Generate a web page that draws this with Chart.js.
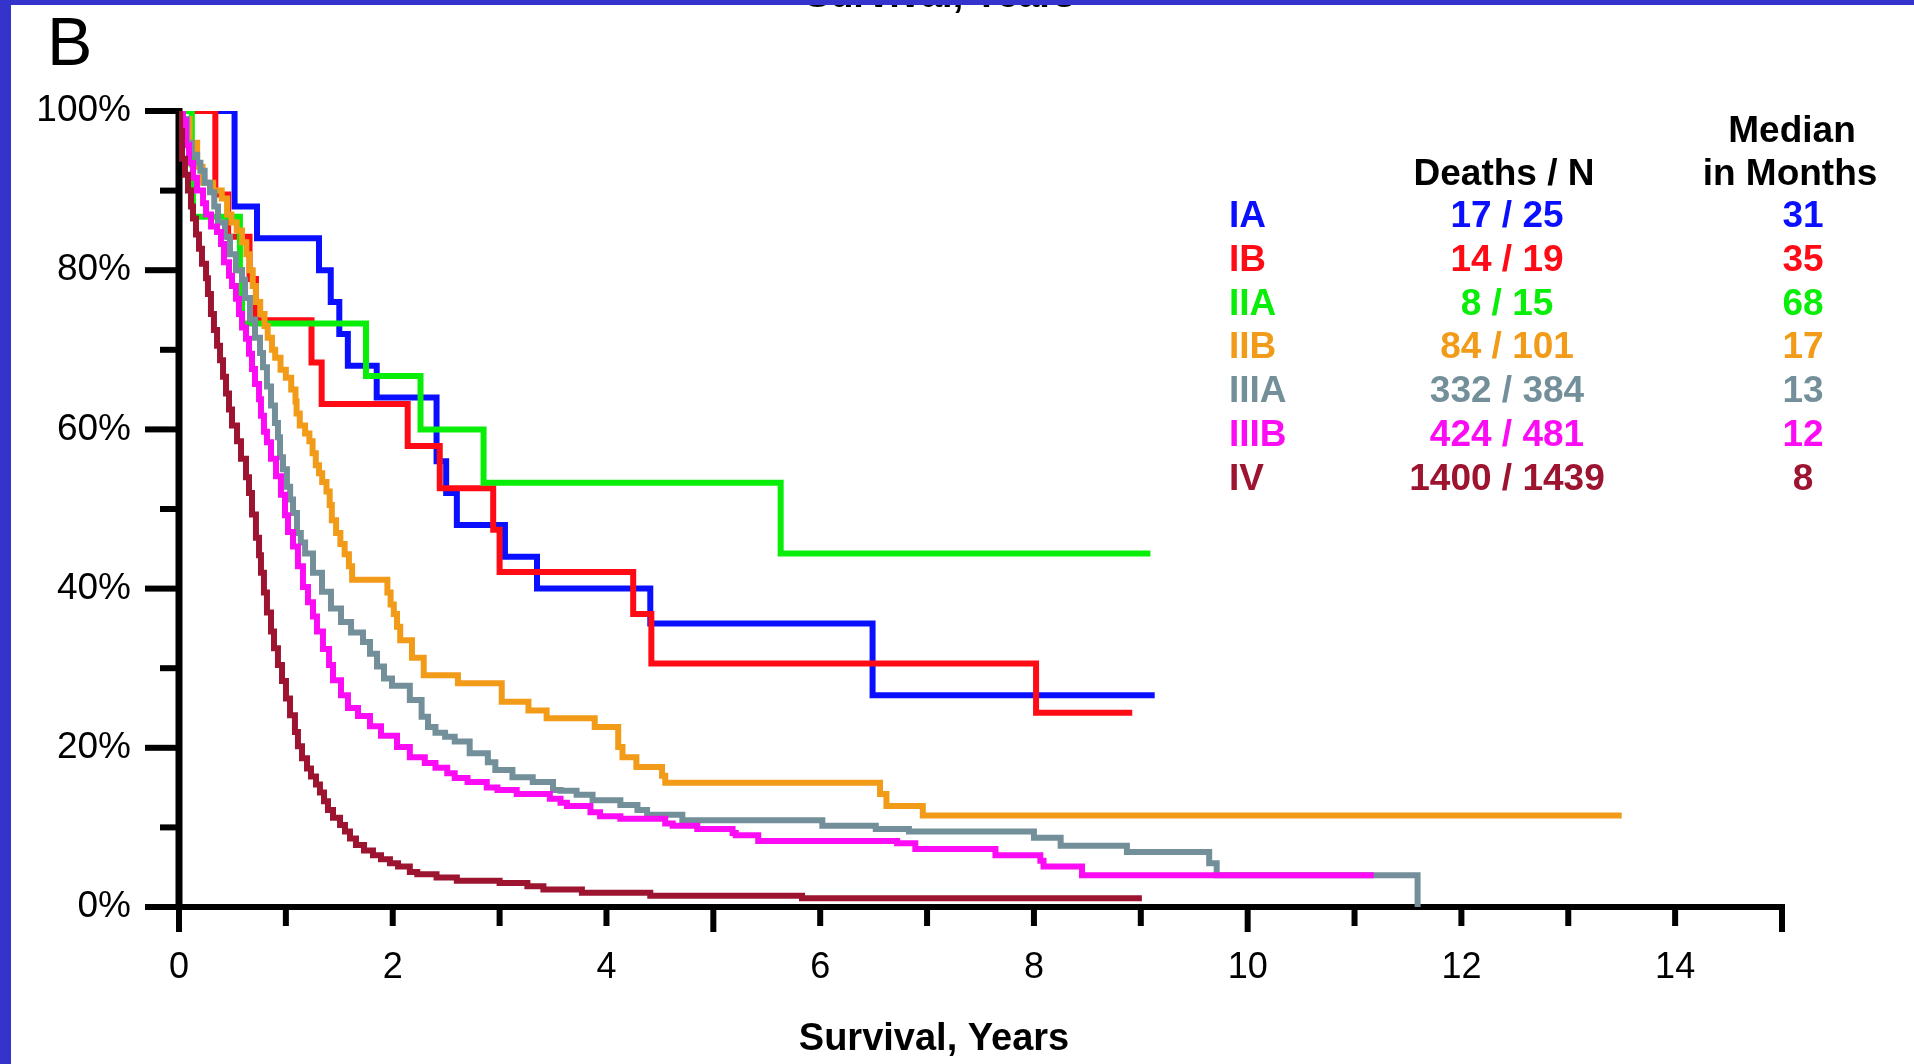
<!doctype html>
<html>
<head>
<meta charset="utf-8">
<title>Survival by stage</title>
<script src="https://cdn.jsdelivr.net/npm/chart.js@4.4.1/dist/chart.umd.min.js"></script>
<style>
  html,body{margin:0;padding:0;background:#fff;}
  #wrap{position:relative;width:1914px;height:1064px;}
</style>
</head>
<body>
<div id="wrap"><canvas id="km"></canvas></div>
<script>
// Kaplan-Meier curves: [years, % surviving after the step]
const stageIA = [[0,100],[0.52,88],[0.73,84],[1.31,80],[1.42,76],[1.50,72],[1.58,68],[1.85,64],[2.41,56],[2.50,52],[2.60,48],[3.05,44],[3.35,40],[4.41,35.6],[6.49,26.6],[9.13,26.6]];
const stageIB = [[0,100],[0.34,89.5],[0.46,84.2],[0.66,78.9],[0.72,73.7],[1.24,68.4],[1.335,63.2],[2.14,57.9],[2.44,52.6],[2.94,47.4],[3.00,42.1],[4.25,36.8],[4.42,30.6],[8.02,24.4],[8.92,24.4]];
const stageIIA = [[0,100],[0.12,93.3],[0.13,86.7],[0.57,80],[0.59,73.3],[1.75,66.7],[2.26,60],[2.85,53.3],[5.63,44.4],[9.09,44.4]];
const stageIIB = [[0,100],[0.03,99],[0.10,96],[0.17,93],[0.22,91],[0.32,90],[0.40,89],[0.45,87],[0.49,86],[0.54,85],[0.59,83.5],[0.63,82],[0.66,80],[0.69,78],[0.72,76],[0.76,74.5],[0.80,73],[0.83,71.5],[0.87,70],[0.90,69],[0.95,67.5],[1.00,66.5],[1.05,65],[1.09,63.5],[1.10,62],[1.13,60.5],[1.18,59.5],[1.22,58.5],[1.25,57],[1.28,55.5],[1.31,54.5],[1.34,53.4],[1.38,52.2],[1.41,50.5],[1.43,48.6],[1.47,47],[1.51,45.6],[1.55,44.3],[1.59,42.8],[1.62,41.1],[1.95,39.5],[1.98,38],[2.01,36.8],[2.04,35.2],[2.07,33.5],[2.18,31.3],[2.29,29.1],[2.61,28.1],[3.02,25.8],[3.27,24.7],[3.44,23.7],[3.89,22.6],[4.11,20.1],[4.15,18.8],[4.28,17.6],[4.52,16.5],[4.55,15.6],[6.56,14.2],[6.62,12.7],[6.96,11.5],[13.50,11.5]];
const stageIIIA = [[0,100],[0.037,99],[0.075,96],[0.12,94.5],[0.17,93.5],[0.20,92.5],[0.24,91],[0.29,89.8],[0.33,88],[0.365,86],[0.43,84.2],[0.477,82],[0.533,80],[0.59,78.8],[0.618,76.5],[0.664,73.8],[0.711,71.5],[0.758,69.6],[0.786,67.8],[0.823,65.4],[0.861,63],[0.898,60.8],[0.926,59],[0.945,56.5],[0.973,55],[1.01,52.8],[1.04,51.2],[1.067,49.5],[1.104,47],[1.14,45.8],[1.18,44.4],[1.254,42],[1.338,39.6],[1.422,37.5],[1.516,35.8],[1.61,34.5],[1.722,33.3],[1.787,31.8],[1.853,30.2],[1.918,28.7],[1.993,27.8],[2.16,26.0],[2.27,23.9],[2.33,22.6],[2.40,21.9],[2.49,21.4],[2.58,20.8],[2.72,19.3],[2.89,18.2],[2.96,17.2],[3.12,16.3],[3.31,15.7],[3.50,14.7],[3.57,14.6],[3.72,14.1],[3.87,13.4],[4.13,12.8],[4.29,12.2],[4.38,11.6],[4.71,10.9],[6.02,10.2],[6.52,9.8],[6.83,9.5],[8.00,8.7],[8.25,7.7],[8.87,6.9],[9.64,5.5],[9.71,4.0],[11.59,0]];
const stageIIIB = [[0,100],[0.037,98.8],[0.065,95.7],[0.094,93.5],[0.131,91.6],[0.168,90],[0.225,88.4],[0.253,87],[0.30,85.5],[0.356,84.8],[0.393,83.3],[0.421,81],[0.468,79.3],[0.496,78],[0.533,76.4],[0.561,74.5],[0.59,72.8],[0.627,71.4],[0.655,69.5],[0.683,67.6],[0.711,65.7],[0.749,63.8],[0.767,61.7],[0.795,59.7],[0.823,58.4],[0.861,56.3],[0.908,54.1],[0.954,51.8],[0.992,49.2],[1.02,47.1],[1.067,45.3],[1.113,42.8],[1.16,40.2],[1.207,38.3],[1.254,36.5],[1.291,34.6],[1.347,32.4],[1.404,30.4],[1.441,28.5],[1.516,26.6],[1.581,25],[1.675,24],[1.787,22.7],[1.89,21.5],[2.04,20.1],[2.16,18.8],[2.30,18.1],[2.40,17.5],[2.51,16.8],[2.58,16.2],[2.70,15.7],[2.88,15.0],[2.98,14.7],[3.16,14.2],[3.47,13.6],[3.57,13.1],[3.63,12.7],[3.85,11.9],[3.94,11.4],[4.13,11.1],[4.55,10.5],[4.62,10.2],[4.85,9.8],[5.18,9.3],[5.21,9.0],[5.42,8.3],[6.72,8.0],[6.89,7.3],[7.64,6.5],[8.06,5.8],[8.09,5.1],[8.45,4.0],[11.18,4.0]];
const stageIV = [[0,100],[0.01,97.5],[0.028,94],[0.056,92],[0.084,90],[0.112,88],[0.131,86.5],[0.159,84.5],[0.187,82.7],[0.215,80.8],[0.253,79],[0.271,77],[0.299,74.5],[0.327,72.5],[0.356,70.5],[0.384,68.7],[0.412,66.6],[0.44,64.5],[0.468,62.5],[0.496,60.5],[0.543,58.5],[0.58,56.3],[0.627,54],[0.655,52],[0.683,49.3],[0.72,46.4],[0.749,44.2],[0.767,42],[0.795,39.5],[0.823,37],[0.861,34.6],[0.889,32.5],[0.926,30.4],[0.964,28.4],[1.001,26.2],[1.039,24.1],[1.085,22],[1.113,20.2],[1.151,18.7],[1.198,17.4],[1.235,16.4],[1.282,15.4],[1.319,14.4],[1.357,13.3],[1.394,12.2],[1.441,11.2],[1.507,10.3],[1.553,9.5],[1.60,8.6],[1.656,7.8],[1.731,7.1],[1.815,6.5],[1.89,6.0],[1.974,5.5],[2.05,5.1],[2.16,4.4],[2.23,4.1],[2.41,3.7],[2.60,3.3],[3.00,3.0],[3.26,2.6],[3.41,2.2],[3.77,1.8],[4.41,1.4],[5.83,1.1],[9.01,1.1]];

const stages  = ['IA', 'IB', 'IIA', 'IIB', 'IIIA', 'IIIB', 'IV'];
const deathsN = ['17 / 25', '14 / 19', '8 / 15', '84 / 101', '332 / 384', '424 / 481', '1400 / 1439'];
const medians = ['31', '35', '68', '17', '13', '12', '8'];
const curves  = [stageIA, stageIB, stageIIA, stageIIB, stageIIIA, stageIIIB, stageIV];
const colors  = ['#0a10ff', '#ff0b16', '#08ee08', '#f29b18', '#73909a', '#fb0cf4', '#9c1430'];

const FONT = '"Liberation Sans", Arial, Helvetica, sans-serif';

// axis lines with long/short ticks, titles, the Deaths/N table and the page frame
const decor = {
  id: 'decor',
  beforeDatasetsDraw(chart) {
    const {ctx, scales: {x, y}} = chart;
    const x0 = x.getPixelForValue(0), y0 = y.getPixelForValue(0), yTop = y.getPixelForValue(100);
    ctx.save();
    ctx.fillStyle = '#000';
    ctx.fillRect(x0 - 3.5, yTop - 3, 7, y0 - yTop + 3);
    ctx.fillRect(x0 - 34, y0 - 3, x.getPixelForValue(15) - x0 + 37, 6);
    for (let v = 10; v <= 100; v += 10) {
      const len = v % 20 ? 19 : 34;
      ctx.fillRect(x0 - len, y.getPixelForValue(v) - 3, len, 6);
    }
    for (let v = 0; v <= 15; v++) {
      const len = v % 5 ? 19 : 25;
      ctx.fillRect(x.getPixelForValue(v) - 3, y0, 6, len);
    }
    ctx.restore();
  },
  afterDraw(chart) {
    const {ctx} = chart;
    ctx.save();
    ctx.fillStyle = '#000';
    ctx.textBaseline = 'alphabetic';

    ctx.font = '68px ' + FONT;
    ctx.textAlign = 'left';
    ctx.fillText('B', 47, 65);

    ctx.font = 'bold 38px ' + FONT;
    ctx.textAlign = 'center';
    ctx.fillText('Survival, Years', 940, 7);
    ctx.fillText('Survival, Years', 934, 1050);

    ctx.font = 'bold 37px ' + FONT;
    ctx.fillText('Median', 1792, 142);
    ctx.fillText('in Months', 1790, 185);
    ctx.fillText('Deaths / N', 1504, 185);
    stages.forEach((s, i) => {
      const by = 227 + i * 43.8;
      ctx.fillStyle = colors[i];
      ctx.textAlign = 'left';
      ctx.fillText(s, 1229, by);
      ctx.textAlign = 'center';
      ctx.fillText(deathsN[i], 1507, by);
      ctx.fillText(medians[i], 1803, by);
    });

    ctx.fillStyle = '#3434cc';
    ctx.fillRect(0, 0, 11, chart.height);
    ctx.fillRect(0, 0, chart.width, 5);
    ctx.restore();
  }
};

new Chart(document.getElementById('km'), {
  type: 'line',
  data: {
    datasets: curves.map((c, i) => ({
      label: stages[i],
      data: c.map(([t, s]) => ({x: t, y: s})),
      borderColor: colors[i],
      borderWidth: 6,
      stepped: 'before',
      pointRadius: 0,
      fill: false,
      order: 7 - i
    }))
  },
  options: {
    responsive: true,
    maintainAspectRatio: false,
    animation: false,
    events: [],
    layout: {padding: {top: 111, right: 132, left: 0, bottom: 0}},
    plugins: {legend: {display: false}, tooltip: {enabled: false}},
    scales: {
      x: {
        type: 'linear', min: 0, max: 15,
        afterFit: s => { s.height = 157; },
        grid: {display: false, drawTicks: false},
        border: {display: false},
        ticks: {
          stepSize: 1, autoSkip: false, maxRotation: 0, padding: 39,
          color: '#000', font: {family: FONT, size: 36},
          callback: v => (v % 2 === 0 && v < 15) ? String(v) : ''
        }
      },
      y: {
        min: 0, max: 100,
        afterFit: s => { s.width = 179; },
        grid: {display: false, drawTicks: false},
        border: {display: false},
        ticks: {
          stepSize: 20, padding: 48,
          color: '#000', font: {family: FONT, size: 37},
          callback: v => v + '%'
        }
      }
    }
  },
  plugins: [decor]
});
</script>
</body>
</html>
